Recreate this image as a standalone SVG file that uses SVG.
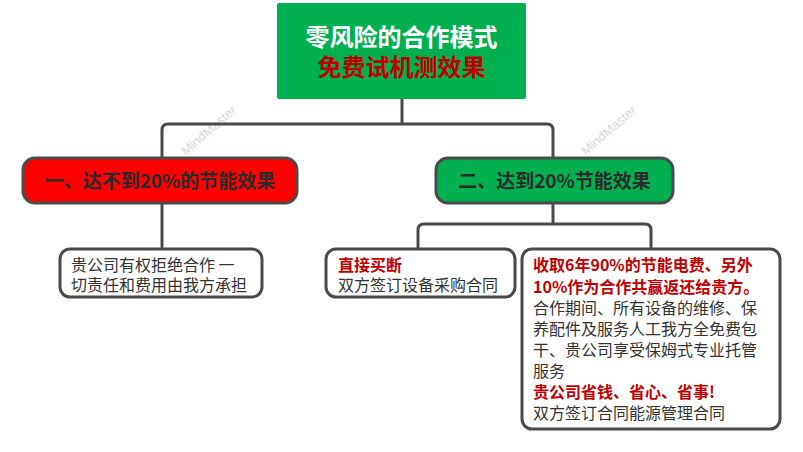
<svg xmlns="http://www.w3.org/2000/svg" width="803" height="452" viewBox="0 0 803 452">
<style>
text{font-family:"Noto Sans CJK SC","Microsoft YaHei",sans-serif;}
.conn{fill:none;stroke:#4a4a4a;stroke-width:3;}
.box{stroke:#4a4a4a;stroke-width:3;}
.l1{font-size:19px;font-weight:bold;fill:#2b2b2b;}
.txt{font-size:16px;fill:#333333;}
.red{font-size:16px;font-weight:bold;fill:#C00000;}
.wm{font-size:13px;fill:#d9d9d9;font-family:"Liberation Sans",sans-serif;}
</style>
<rect width="803" height="452" fill="#ffffff"/>
<g id="watermarks">
<text class="wm" transform="translate(186,156) rotate(-41)">MindMaster</text>
<text class="wm" transform="translate(586,156) rotate(-41)">MindMaster</text>
</g>
<g id="connectors">
<path class="conn" d="M402,99 V124 M162,158 V130 Q162,124 168,124 H547 Q553,124 553,130 V158"/>
<path class="conn" d="M162,203 V248"/>
<path class="conn" d="M553,203 V224 M418,248 V230 Q418,224 424,224 H645 Q651,224 651,230 V248"/>
</g>
<g id="root">
<rect x="277" y="3" width="249" height="96" rx="2" fill="#00B050"/>
<text x="401.5" y="46" text-anchor="middle" font-size="24" font-weight="bold" fill="#ffffff">零风险的合作模式</text>
<text x="401.5" y="76" text-anchor="middle" font-size="24" font-weight="bold" fill="#C00000">免费试机测效果</text>
</g>
<g id="node1">
<rect class="box" x="23" y="158" width="274" height="45" rx="12" fill="#FF0000"/>
<text class="l1" x="160" y="188" text-anchor="middle">一、达不到20%的节能效果</text>
</g>
<g id="node2">
<rect class="box" x="436" y="158" width="237" height="45" rx="12" fill="#00B050"/>
<text class="l1" x="554.5" y="188" text-anchor="middle">二、达到20%节能效果</text>
</g>
<g id="leaf1">
<rect class="box" x="60" y="249" width="202" height="48" rx="10" fill="#ffffff"/>
<text class="txt" x="71" y="271">贵公司有权拒绝合作 一</text>
<text class="txt" x="71" y="291">切责任和费用由我方承担</text>
</g>
<g id="leaf2">
<rect class="box" x="326" y="249" width="189" height="48" rx="10" fill="#ffffff"/>
<text class="red" x="338" y="271">直接买断</text>
<text class="txt" x="338" y="291">双方签订设备采购合同</text>
</g>
<g id="leaf3">
<rect class="box" x="522" y="249" width="258" height="180" rx="10" fill="#ffffff"/>
<text class="red" x="533" y="271">收取6年90%的节能电费、另外</text>
<text class="red" x="533" y="293">10%作为合作共赢返还给贵方。</text>
<text class="txt" x="533" y="314">合作期间、所有设备的维修、保</text>
<text class="txt" x="533" y="335">养配件及服务人工我方全免费包</text>
<text class="txt" x="533" y="356">干、贵公司享受保姆式专业托管</text>
<text class="txt" x="533" y="377">服务</text>
<text class="red" x="533" y="398">贵公司省钱、省心、省事!</text>
<text class="txt" x="533" y="419">双方签订合同能源管理合同</text>
</g>
</svg>
